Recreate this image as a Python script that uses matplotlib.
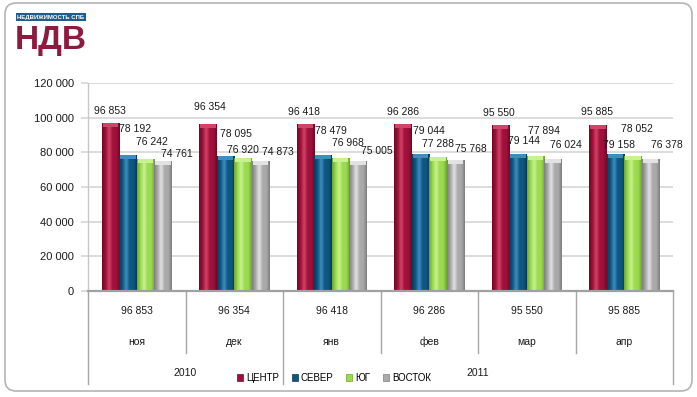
import matplotlib
matplotlib.use("Agg")
import matplotlib.pyplot as plt
import numpy as np
from matplotlib.patches import Rectangle, FancyBboxPatch, Patch
from matplotlib.colors import LinearSegmentedColormap
from matplotlib.transforms import blended_transform_factory

# ---------------- data ----------------
months = ['ноя', 'дек', 'янв', 'фев', 'мар', 'апр']
years = ['2010', '2011']
year_spans = [(0, 2), (2, 6)]
series_names = ['ЦЕНТР', 'СЕВЕР', 'ЮГ', 'ВОСТОК']
center = [96853, 96354, 96418, 96286, 95550, 95885]
north = [78192, 78095, 78479, 79044, 79144, 79158]
south = [76242, 76920, 76968, 77288, 77894, 78052]
east = [74761, 74873, 75005, 75768, 76024, 76378]
series = [center, north, south, east]
yticks = [0, 20000, 40000, 60000, 80000, 100000, 120000]

# ---------------- style ----------------
colors = ['#A0103A', '#0E5782', '#9CDA50', '#AAAAAA']
dark = ['#6E0826', '#083A58', '#6DA530', '#7E7E7E']
light = ['#D04468', '#3F8CC0', '#C8F290', '#E2E2E2']
# label offsets in pixels (dx, dy) relative to top-centre of each bar
label_offsets = [
    [(0, 12), (2, 17), (-1, 12), (0, 12), (-1.5, 12), (-1, 13)],
    [(7.5, 26), (10, 22), (8, 24), (8.5, 23), (6, 12.5), (4, 9)],
    [(6.5, 17), (0, 8), (7.5, 15), (0, 13), (8.7, 25), (4, 26.6)],
    [(13.5, 7), (17, 9), (19, 10), (15, 10.5), (13, 13.8), (16, 13.5)],
]

FONT = 'Liberation Sans'
plt.rcParams['font.family'] = [FONT, 'DejaVu Sans']

W, H = 697, 397
fig = plt.figure(figsize=(W / 100, H / 100), dpi=100)
fig.patch.set_facecolor('white')

# outer rounded frame (pixel coords)
frame = FancyBboxPatch((5, 6), 687, 388, boxstyle='round,pad=0,rounding_size=11',
                       transform=None, facecolor='none', edgecolor='#B4B4B4',
                       linewidth=1.2, zorder=-1)
fig.patches.append(frame)

ax_left, ax_right, ax_bottom, ax_top = 88, 673, 291, 83
ax = fig.add_axes([ax_left / W, (H - ax_bottom) / H,
                   (ax_right - ax_left) / W, (ax_bottom - ax_top) / H])
ax.set_facecolor('none')
ax.set_zorder(2)

n = len(months)
x = np.arange(n) + 0.5
bw = 0.18
for i, vals in enumerate(series):
    pos = x + (i - 1.5) * bw
    bars = ax.bar(pos, vals, width=bw, color=colors[i], zorder=3, linewidth=0)
    cmap = LinearSegmentedColormap.from_list(
        'g%d' % i, [dark[i], colors[i], light[i], colors[i], colors[i], dark[i]])
    grad = np.linspace(0, 1, 64).reshape(1, -1)
    for b in bars:
        x0, w, h = b.get_x(), b.get_width(), b.get_height()
        im = ax.imshow(grad, cmap=cmap, extent=(x0, x0 + w, 0, h),
                       aspect='auto', zorder=4, interpolation='bilinear')
        im.set_clip_path(b)
        cap_h = 2300
        ax.add_patch(Rectangle((x0 + w * 0.06, h - cap_h), w * 0.88, cap_h,
                               facecolor=light[i], edgecolor='none', zorder=5))
    for j, (b, v) in enumerate(zip(bars, vals)):
        dx, dy = label_offsets[i][j]
        ax.annotate(f"{v:,}".replace(',', ' '),
                    (b.get_x() + b.get_width() / 2, b.get_height()),
                    xytext=(dx, dy), textcoords='offset pixels',
                    ha='center', va='center', fontsize=7.5, color='#1A1A1A',
                    zorder=6)

ax.set_xlim(0, n)
ax.set_ylim(0, 120000)
ax.set_yticks(yticks)
ax.set_yticklabels([f"{t:,}".replace(',', ' ') for t in yticks],
                   fontsize=8, color='#1A1A1A')
ax.set_xticks([])
ax.yaxis.grid(True, color='#D9D9D9', linewidth=1.3, zorder=0)
ax.set_axisbelow(True)
ax.tick_params(axis='y', length=5, color='#D9D9D9', width=1.3, pad=5)
for s in ['top', 'right']:
    ax.spines[s].set_visible(False)
ax.spines['left'].set_color('#C8C8C8')
ax.spines['left'].set_linewidth(1)
ax.spines['bottom'].set_color('#A0A0A0')
ax.spines['bottom'].set_linewidth(1.6)
ax.spines['bottom'].set_zorder(7)

# table under the axis
tr = blended_transform_factory(ax.transData, ax.transAxes)
hpx = ax_bottom - ax_top
def yf(p):
    return (ax_bottom - p) / hpx

line_c = '#A6A6A6'
big_bounds = {0, 2, 6}
for k in range(n + 1):
    ybot = yf(384) if k in big_bounds else yf(353)
    ax.plot([k, k], [0, ybot], transform=tr, color=line_c, lw=1,
            clip_on=False, zorder=2)
for j in range(n):
    ax.text(x[j], yf(311), f"{center[j]:,}".replace(',', ' '), transform=tr,
            ha='center', va='center', fontsize=7.5, color='#1A1A1A')
    ax.text(x[j], yf(342), months[j], transform=tr,
            ha='center', va='center', fontsize=7.5, color='#1A1A1A')
for yr, (a, b) in zip(years, year_spans):
    ax.text((a + b) / 2, yf(373), yr, transform=tr,
            ha='center', va='center', fontsize=7.5, color='#1A1A1A')

# legend
handles = [Patch(facecolor=c, edgecolor=d, linewidth=0.5) for c, d in zip(colors, dark)]
fig.legend(handles, series_names, loc='center', bbox_to_anchor=(334 / W, 1 - 378 / H),
           ncol=4, frameon=False, fontsize=7, handlelength=0.65, handleheight=0.65,
           handletextpad=0.3, columnspacing=1.3, borderpad=0)

# logo
fig.patches.append(Rectangle((16, H - 21), 70, 8, transform=None,
                             facecolor='#1F5E8C', edgecolor='none', zorder=1))
fig.text(51 / W, 1 - 17 / H, 'НЕДВИЖИМОСТЬ СПБ', ha='center', va='center',
         fontsize=4.3, fontweight='bold', color='white')
fig.text(51 / W, 1 - 40 / H, 'НДВ', ha='center', va='center',
         fontsize=24, fontweight='bold', color='#8E1A3E')

fig.savefig('out.png', dpi=100, facecolor='white')
